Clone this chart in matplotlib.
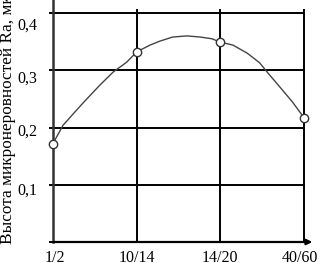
import matplotlib.pyplot as plt

# categories on x axis
labels = ["1/2", "10/14", "14/20", "40/60"]
# measured points (open circles)
pts_y = [0.172, 0.332, 0.349, 0.217]
# smooth curve (x in category units)
curve_x = [0.0, 0.12, 0.36, 0.56, 0.72, 0.88, 1.0, 1.16, 1.28, 1.43, 1.60,
           1.76, 1.90, 2.0, 2.15, 2.32, 2.47, 2.57, 2.71, 2.86, 3.0]
curve_y = [0.172, 0.204, 0.243, 0.274, 0.297, 0.314, 0.332, 0.344, 0.351,
           0.358, 0.360, 0.358, 0.355, 0.349, 0.344, 0.330, 0.313, 0.295,
           0.271, 0.245, 0.217]
yticks = [0.1, 0.2, 0.3, 0.4]
ytick_labels = ["0,1", "0,2", "0,3", "0,4"]

W, H = 321, 263
fig = plt.figure(figsize=(W / 100, H / 100), dpi=100)
ax = fig.add_axes([53 / W, 1 - 242 / H, (304 - 53) / W, (242 - 13) / H])
ax.set_xlim(0, 3)
ax.set_ylim(0, 0.4)
for s in ax.spines.values():
    s.set_visible(False)
ax.set_xticks([])
ax.set_yticks([])

font = dict(family="Liberation Serif", size=11.5)

# grid
for y in yticks:
    ax.plot([-0.04, 3], [y, y], color="black", lw=1.4, zorder=1, clip_on=False)
ax.plot([-0.04, 0], [0, 0], color="black", lw=1.4, clip_on=False)
for x in [1, 2, 3]:
    ax.plot([x, x], [0, 0.405], color="black", lw=1.4, zorder=1, clip_on=False)

# axes lines
ax.plot([0, 0], [0, 0.425], color="#333333", lw=1.8, clip_on=False, zorder=2)
ax.annotate("", xy=(3.1, 0), xytext=(0, 0),
            arrowprops=dict(arrowstyle="-|>", color="black", lw=1.6,
                            mutation_scale=8, shrinkA=0, shrinkB=0),
            annotation_clip=False)

# curve and markers
ax.plot(curve_x, curve_y, color="#444444", lw=1.0, zorder=3)
ax.plot(range(len(pts_y)), pts_y, "o", ms=6, mfc="white", mec="#333333",
        mew=1.0, zorder=4, clip_on=False)

# tick labels (sit a little below their gridlines in the original)
ydrop = [0.011, 0.008, 0.014, 0.022]
for y, t, d in zip(yticks, ytick_labels, ydrop):
    ax.text(-0.19, y - d, t, ha="right", va="center", **font)
xoff = [0.02, 0.0, 0.0, -0.05]
for i, t in enumerate(labels):
    ax.text(i + xoff[i], -0.014, t, ha="center", va="top", **font)

fig.text(8.5 / W, 1 - 244 / H, "Высота микронеровностей Ra, мкм", rotation=90,
         ha="center", va="bottom", family="Liberation Serif", size=12.4)

fig.savefig("out.png", dpi=100)
